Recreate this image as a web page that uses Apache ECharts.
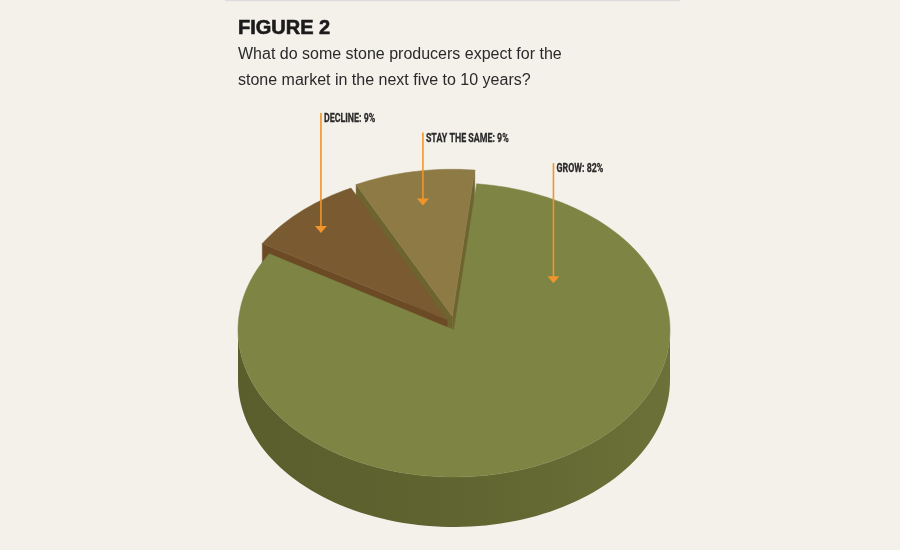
<!DOCTYPE html>
<html>
<head>
<meta charset="utf-8">
<script src="https://cdn.jsdelivr.net/npm/echarts@6/dist/echarts.min.js"></script>
<style>
html,body{margin:0;padding:0;background:#f4f1eb;}
#main{width:900px;height:550px;}
</style>
</head>
<body>
<div id="main"></div>
<script>
// ---- data ----
const categories = ['Grow', 'Decline', 'Stay the same'];
const values = [82, 9, 9];
const labelNames = ['GROW', 'DECLINE', 'STAY THE SAME'];
const exploded = [false, true, true];

// ---- styling / layout ----
const START_ANGLE = 84;      // degrees, slices run clockwise
const EXPLODE = 0.095;       // fraction of radius
const EXPLODE_X = 0.5;       // horizontal damping of the explode offset
const DEPTH = 0.34;          // wall height as fraction of vertical radius
const topColors = ['#7d8444', '#7a5a30', '#8e7a44'];
const sideColors = ['#5f6430', '#6b4a25', '#6e6430'];
const drawOrder = [3, 2, 1];
const labelLayout = [
  { frac: 0.167, r: 0.56, rise: 120 },
  { frac: 0.435, r: 0.83, rise: 120 },
  { frac: 0.5, r: 0.765, rise: 73 }
];
const ARROW_COLOR = '#f0952a';

const total = values.reduce((a, b) => a + b, 0);
const rad = Math.PI / 180;

function renderSlice(params, api) {
  const i = params.dataIndex;
  let cum = 0;
  for (let k = 0; k < i; k++) cum += values[k];
  const a0 = START_ANGLE - cum / total * 360;
  const a1 = a0 - api.value(1) / total * 360;
  const mid = (a0 + a1) / 2;
  const off = exploded[i] ? EXPLODE : 0;
  const ox = off * EXPLODE_X * Math.cos(mid * rad), oy = off * Math.sin(mid * rad);
  const pt = (ang, r) => api.coord([ox + r * Math.cos(ang * rad), oy + r * Math.sin(ang * rad)]);
  const c0 = api.coord([0, 0]);
  const depth = (c0[1] - api.coord([0, 1])[1]) * DEPTH;
  const xl = api.coord([-1, 0])[0], xr = api.coord([1, 0])[0];

  // arc angles ascending from a1 to a0
  let angs = [];
  const n = Math.max(2, Math.ceil((a0 - a1) / 2));
  for (let k = 0; k <= n; k++) angs.push(a1 + (a0 - a1) * k / n);
  for (let m = Math.ceil(a1 / 180) * 180; m < a0; m += 180) angs.push(m);
  angs = angs.sort((p, q) => p - q).filter((v, k, arr) => k === 0 || Math.abs(v - arr[k - 1]) > 1e-6);

  const apex = pt(0, 0);
  const arc = angs.map(a => pt(a, 1));
  const base = drawOrder[i] * 10;
  const children = [];
  const down = p => [p[0], p[1] + depth];

  // curved front wall
  const grad = new echarts.graphic.LinearGradient(xl, 0, xr, 0, [
    { offset: 0, color: '#5a5e2d' },
    { offset: 0.5, color: '#5f6430' },
    { offset: 1, color: '#6c7139' }
  ], true);
  let run = [];
  const flush = () => {
    if (run.length > 1) {
      const pts = run.concat(run.slice().reverse().map(down));
      children.push({
        type: 'polygon', z2: base + 1,
        shape: { points: pts },
        style: { fill: exploded[i] ? sideColors[i] : grad, stroke: null }
      });
    }
    run = [];
  };
  for (let k = 0; k < angs.length - 1; k++) {
    const ma = (angs[k] + angs[k + 1]) / 2;
    if (Math.sin(ma * rad) < 0) {
      if (!run.length) run.push(arc[k]);
      run.push(arc[k + 1]);
    } else flush();
  }
  flush();

  // radial cut faces (only those facing the viewer)
  const radial = [[apex, arc[0]], [arc[arc.length - 1], apex]];
  radial.forEach(([p, q]) => {
    if (q[0] - p[0] > 0.01) {
      children.push({
        type: 'polygon', z2: base + 1,
        shape: { points: [p, q, down(q), down(p)] },
        style: { fill: sideColors[i], stroke: sideColors[i], lineWidth: 0.5 }
      });
    }
  });

  // top face
  children.push({
    type: 'polygon', z2: base + 2,
    shape: { points: [apex].concat(arc) },
    style: { fill: topColors[i], stroke: topColors[i], lineWidth: 0.5 }
  });

  // callout arrow + label
  const L = labelLayout[i];
  const la = a0 - L.frac * (a0 - a1);
  const tip = pt(la, L.r);
  const topY = tip[1] - L.rise;
  children.push({
    type: 'line', z2: 100,
    shape: { x1: tip[0], y1: topY, x2: tip[0], y2: tip[1] - 6 },
    style: { stroke: ARROW_COLOR, lineWidth: 1.6 }
  });
  children.push({
    type: 'polygon', z2: 100,
    shape: { points: [[tip[0] - 6, tip[1] - 7], [tip[0] + 6, tip[1] - 7], [tip[0], tip[1]]] },
    style: { fill: ARROW_COLOR }
  });
  children.push({
    type: 'text', z2: 100,
    x: tip[0] + 3, y: topY + 6, scaleX: 0.68,
    style: {
      text: labelNames[i] + ': ' + values[i] + '%',
      x: 0, y: 0,
      fill: '#2a2a2a',
      font: 'bold 13px Roboto',
      stroke: '#2a2a2a', lineWidth: 0.3,
      align: 'left', verticalAlign: 'middle'
    }
  });

  return { type: 'group', children: children };
}

const chart = echarts.init(document.getElementById('main'), null, { renderer: 'canvas' });
chart.setOption({
  backgroundColor: '#f4f1eb',
  animation: false,
  title: {
    text: 'FIGURE 2',
    subtext: 'What do some stone producers expect for the\nstone market in the next five to 10 years?',
    left: 238, top: 18, itemGap: 3, padding: 0,
    textStyle: { fontFamily: 'Liberation Sans', fontSize: 20, fontWeight: 'bold', color: '#1b1b1b', lineHeight: 20, textBorderColor: '#1b1b1b', textBorderWidth: 0.6 },
    subtextStyle: { fontFamily: 'Liberation Sans', fontSize: 16, color: '#2a2a2a', lineHeight: 26 }
  },
  graphic: [{
    type: 'line', shape: { x1: 225, y1: 0.5, x2: 680, y2: 0.5 },
    style: { stroke: '#dcdcdc', lineWidth: 1.5 }
  }],
  grid: { left: 238, top: 183, width: 432, height: 294 },
  xAxis: { type: 'value', min: -1, max: 1, show: false },
  yAxis: { type: 'value', min: -1, max: 1, show: false },
  series: [{
    type: 'custom',
    name: 'Stone market outlook',
    coordinateSystem: 'cartesian2d',
    renderItem: renderSlice,
    data: categories.map((c, i) => ({ name: c, value: [i, values[i]] })),
    encode: { x: -1, y: -1 },
    silent: true
  }]
});
</script>
</body>
</html>
